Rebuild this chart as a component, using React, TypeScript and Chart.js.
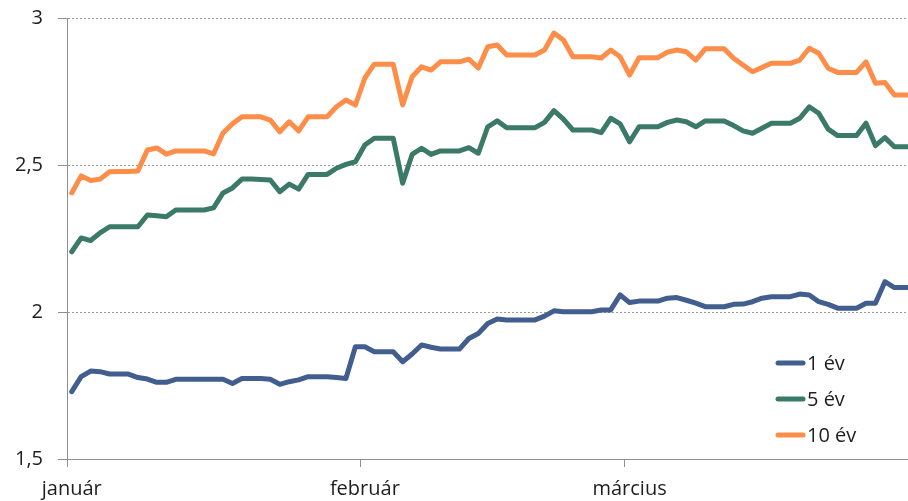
import { useEffect, useRef } from 'react';
import { Chart, registerables } from 'chart.js';

Chart.register(...registerables);

// ---- Data ----
const MONTHS = ['január', 'február', 'március'];
const DAYS_IN_MONTH = [31, 28, 31];
const Y_MIN = 1.5;
const Y_MAX = 3;
const Y_STEP = 0.5;

const SERIES_LABELS = ['1 év', '5 év', '10 év'];

const ONE_YEAR = [
  1.729, 1.78, 1.799, 1.797, 1.789, 1.789, 1.789, 1.777, 1.772, 1.761,
  1.761, 1.771, 1.771, 1.771, 1.771, 1.771, 1.771, 1.757, 1.774, 1.774,
  1.774, 1.771, 1.754, 1.763, 1.769, 1.78, 1.78, 1.78, 1.777, 1.774,
  1.882, 1.882, 1.865, 1.865, 1.865, 1.831, 1.857, 1.888, 1.88, 1.874,
  1.874, 1.874, 1.91, 1.927, 1.961, 1.976, 1.973, 1.973, 1.973, 1.973,
  1.986, 2.004, 2.001, 2.001, 2.001, 2.001, 2.007, 2.007, 2.058, 2.032,
  2.037, 2.037, 2.037, 2.047, 2.049, 2.04, 2.03, 2.018, 2.018, 2.018,
  2.026, 2.027, 2.035, 2.047, 2.052, 2.052, 2.052, 2.061, 2.058, 2.035,
  2.026, 2.013, 2.013, 2.013, 2.03, 2.03, 2.103, 2.083, 2.083, 2.083,
];

const FIVE_YEAR = [
  2.205, 2.252, 2.243, 2.269, 2.29, 2.29, 2.29, 2.29, 2.33, 2.327,
  2.324, 2.347, 2.347, 2.347, 2.347, 2.354, 2.405, 2.422, 2.452, 2.452,
  2.451, 2.449, 2.409, 2.435, 2.418, 2.468, 2.468, 2.468, 2.489, 2.502,
  2.511, 2.568, 2.591, 2.591, 2.591, 2.438, 2.536, 2.557, 2.536, 2.548,
  2.548, 2.548, 2.559, 2.54, 2.63, 2.65, 2.627, 2.627, 2.627, 2.627,
  2.645, 2.685, 2.656, 2.619, 2.619, 2.619, 2.61, 2.659, 2.64, 2.579,
  2.63, 2.63, 2.63, 2.645, 2.653, 2.647, 2.63, 2.65, 2.65, 2.65,
  2.634, 2.616, 2.608, 2.625, 2.642, 2.642, 2.642, 2.659, 2.698, 2.676,
  2.622, 2.6, 2.6, 2.6, 2.642, 2.566, 2.593, 2.562, 2.562, 2.562,
];

const TEN_YEAR = [
  2.405, 2.463, 2.447, 2.452, 2.477, 2.478, 2.478, 2.48, 2.551, 2.558,
  2.537, 2.548, 2.548, 2.548, 2.548, 2.538, 2.609, 2.64, 2.664, 2.664,
  2.664, 2.653, 2.613, 2.647, 2.616, 2.664, 2.664, 2.664, 2.698, 2.721,
  2.704, 2.796, 2.843, 2.843, 2.843, 2.704, 2.8, 2.834, 2.823, 2.851,
  2.851, 2.851, 2.86, 2.83, 2.902, 2.908, 2.874, 2.874, 2.874, 2.874,
  2.891, 2.949, 2.925, 2.868, 2.868, 2.868, 2.864, 2.891, 2.868, 2.806,
  2.865, 2.865, 2.865, 2.884, 2.891, 2.885, 2.857, 2.895, 2.895, 2.895,
  2.863, 2.84, 2.817, 2.832, 2.846, 2.846, 2.846, 2.857, 2.897, 2.88,
  2.829, 2.815, 2.815, 2.815, 2.851, 2.778, 2.781, 2.738, 2.738, 2.738,
];

// Category labels: one per calendar day
const LABELS: string[] = [];
const MONTH_START: number[] = [];
MONTHS.forEach((m, mi) => {
  for (let d = 1; d <= DAYS_IN_MONTH[mi]; d++) {
    if (d === 1) MONTH_START.push(LABELS.length);
    LABELS.push(`${m} ${d}`);
  }
});

// ---- Styles ----
const COLORS = ['#415E8E', '#3B7A67', '#FD8E4A'];
const AXIS_COLOR = '#8f8f8f';
const GRID_COLOR = '#9a9a9a';
const TEXT_COLOR = '#1e1e1e';
const FONT_FAMILY = "'Open Sans', 'Noto Sans', sans-serif";

const insideLegend = {
  id: 'insideLegend',
  afterDatasetsDraw(chart: any) {
    const { ctx, chartArea } = chart;
    ctx.save();
    chart.data.datasets.forEach((ds: any, i: number) => {
      const y = chartArea.bottom - 96 + i * 36;
      const x0 = chartArea.left + 711;
      const x1 = chartArea.left + 736;
      ctx.beginPath();
      ctx.strokeStyle = ds.borderColor;
      ctx.lineWidth = 5;
      ctx.lineCap = 'round';
      ctx.moveTo(x0, y);
      ctx.lineTo(x1, y);
      ctx.stroke();
      ctx.fillStyle = TEXT_COLOR;
      ctx.font = `20px ${FONT_FAMILY}`;
      ctx.textBaseline = 'middle';
      ctx.textAlign = 'left';
      ctx.fillText(ds.label, x1 + 4, y + 1);
    });
    ctx.restore();
  },
};

export default function App() {
  const canvasRef = useRef<HTMLCanvasElement | null>(null);

  useEffect(() => {
    if (!canvasRef.current) return;
    const seriesValues = [ONE_YEAR, FIVE_YEAR, TEN_YEAR];
    const chart = new Chart(canvasRef.current, {
      type: 'line',
      data: {
        labels: LABELS,
        datasets: SERIES_LABELS.map((label, i) => ({
          label,
          data: seriesValues[i],
          borderColor: COLORS[i],
          backgroundColor: COLORS[i],
          borderWidth: 5,
          pointRadius: 0,
          tension: 0,
          borderJoinStyle: 'round',
          borderCapStyle: 'round',
          fill: false,
        })),
      },
      options: {
        animation: false,
        responsive: true,
        maintainAspectRatio: false,
        layout: { padding: { top: 18, right: 0, bottom: 0, left: 0 } },
        plugins: {
          legend: { display: false },
          tooltip: { enabled: false },
        },
        scales: {
          x: {
            type: 'category',
            offset: true,
            grid: {
              display: true,
              offset: true,
              drawOnChartArea: false,
              drawTicks: true,
              tickLength: 8,
              tickWidth: 1,
              tickColor: (ctx: any) =>
                MONTH_START.includes(ctx.index) ? AXIS_COLOR : 'rgba(0,0,0,0)',
            },
            border: { display: true, color: AXIS_COLOR, width: 1 },
            ticks: {
              autoSkip: false,
              maxRotation: 0,
              minRotation: 0,
              padding: 10,
              color: TEXT_COLOR,
              font: { family: FONT_FAMILY, size: 20 },
              callback: (_v: any, idx: number) => {
                const mi = MONTH_START.indexOf(idx);
                return mi >= 0 ? MONTHS[mi] : '';
              },
            },
            afterFit: (s: any) => {
              s.height = 42;
              s.paddingLeft = 0;
              s.paddingRight = 0;
            },
          },
          y: {
            min: Y_MIN,
            max: Y_MAX,
            ticks: {
              stepSize: Y_STEP,
              padding: 15,
              color: TEXT_COLOR,
              font: { family: FONT_FAMILY, size: 20 },
              callback: (v: any) => String(v).replace('.', ','),
            },
            grid: {
              color: GRID_COLOR,
              lineWidth: 1,
              drawTicks: true,
              tickLength: 9,
              tickColor: AXIS_COLOR,
              tickBorderDash: [],
            },
            border: { display: true, color: AXIS_COLOR, width: 1, dash: [2, 2] },
            afterFit: (s: any) => {
              s.width = 67;
              s.paddingTop = 0;
              s.paddingBottom = 0;
            },
          },
        },
      },
      plugins: [insideLegend],
    } as any);
    return () => chart.destroy();
  }, []);

  return (
    <div
      style={{
        position: 'fixed',
        left: 0,
        top: 0,
        width: 908,
        height: 501,
        overflow: 'hidden',
        background: '#ffffff',
      }}
    >
      <div style={{ position: 'relative', width: 918, height: 501 }}>
        <canvas ref={canvasRef} />
      </div>
    </div>
  );
}
